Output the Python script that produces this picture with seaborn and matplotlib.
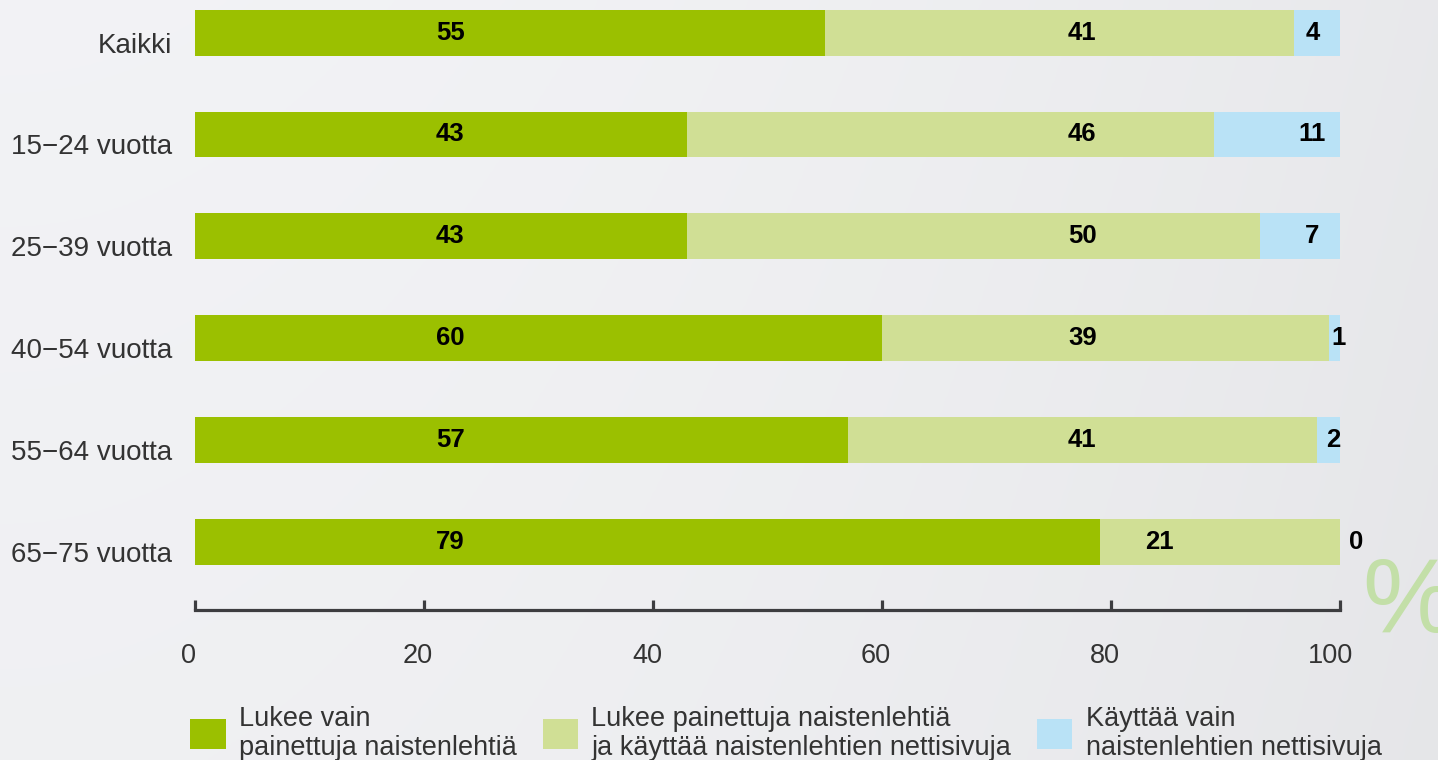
import numpy as np
import pandas as pd
import matplotlib
matplotlib.use("Agg")
import matplotlib.pyplot as plt
import matplotlib.transforms as mtransforms
import seaborn as sns

categories = ["Kaikki", "15\u221224 vuotta", "25\u221239 vuotta", "40\u221254 vuotta",
              "55\u221264 vuotta", "65\u221275 vuotta"]
print_only = [55, 43, 43, 60, 57, 79]
print_and_web = [41, 46, 50, 39, 41, 21]
web_only = [4, 11, 7, 1, 2, 0]
series_names = ["Lukee vain\npainettuja naistenlehtiä",
                "Lukee painettuja naistenlehtiä\nja käyttää naistenlehtien nettisivuja",
                "Käyttää vain\nnaistenlehtien nettisivuja"]
x_ticks = [0, 20, 40, 60, 80, 100]

colors = ["#9bc000", "#d0df95", "#b9e2f6"]

sns.set_theme(style="white")
plt.rcParams["font.family"] = ["Liberation Sans", "DejaVu Sans"]

df = pd.DataFrame({
    "cat": categories,
    "a": print_only,
    "b": print_and_web,
    "c": web_only,
})
df["ab"] = df["a"] + df["b"]
df["abc"] = df["ab"] + df["c"]

fig = plt.figure(figsize=(14.38, 7.6), dpi=100)
fig.patch.set_facecolor("#eeeff2")

# subtle background gradient
bg = fig.add_axes([0, 0, 1, 1], zorder=-10)
grad = np.linspace(0, 1, 256)
gx, gy = np.meshgrid(grad, grad)
val = 0.95 - 0.04 * gx**2 - 0.01 * gy
bg.imshow(np.dstack([val, val + 0.002, val + 0.012]).clip(0, 1), aspect="auto",
          extent=[0, 1, 0, 1])
bg.axis("off")

ax = fig.add_axes([195 / 1438, 150 / 760, (1340 - 195) / 1438, 610 / 760])
ax.patch.set_alpha(0)

bar_kw = dict(y="cat", width=0.45, ax=ax, saturation=1, orient="h", linewidth=0)
sns.barplot(data=df, x="abc", color=colors[2], label=series_names[2], **bar_kw)
sns.barplot(data=df, x="ab", color=colors[1], label=series_names[1], **bar_kw)
sns.barplot(data=df, x="a", color=colors[0], label=series_names[0], **bar_kw)
if ax.get_legend() is not None:
    ax.get_legend().remove()

ax.set_xlim(0, 100)
ax.set_ylim(5.667, -0.32)
ax.set_xlabel("")
ax.set_ylabel("")
ax.set_xticks(x_ticks)
ax.set_xticklabels([str(t) for t in x_ticks], fontsize=19.5, color="#333333")

for s in ["top", "right", "left"]:
    ax.spines[s].set_visible(False)
ax.spines["bottom"].set_color("#3d3d40")
ax.spines["bottom"].set_linewidth(2.3)
ax.spines["bottom"].set_capstyle("projecting")
ax.tick_params(axis="x", direction="in", length=7, width=2.3, color="#3d3d40", pad=24,
               bottom=True)
ax.tick_params(axis="y", length=0, pad=16.5, labelsize=20, labelcolor="#333333")

offset = mtransforms.ScaledTranslation(0, -10 / 100, fig.dpi_scale_trans)
for lab in ax.get_yticklabels():
    lab.set_transform(lab.get_transform() + offset)
for lab in ax.get_xticklabels():
    shift = -10 / 100 if lab.get_text() == "100" else -6 / 100
    lab.set_transform(lab.get_transform()
                      + mtransforms.ScaledTranslation(shift, 0, fig.dpi_scale_trans))

# value labels
lab_kw = dict(fontsize=18.5, fontweight="bold", color="black", va="center", ha="center")
for i, (a, b, c) in enumerate(zip(print_only, print_and_web, web_only)):
    ax.text(22.3, i, str(a), **lab_kw)
    ax.text(max(77.5, a + 5.2), i, str(b), **lab_kw)
    if c >= 4:
        xc = 97.6
    elif c > 0:
        xc = a + b + c / 2 + 0.4
    else:
        xc = 101.4
    ax.text(xc, i, str(c), **lab_kw)

# legend
handles, labels = ax.get_legend_handles_labels()
order = [labels.index(n) for n in series_names]
leg = fig.legend([handles[k] for k in order], [labels[k] for k in order],
                 loc="lower left", bbox_to_anchor=(166 / 1438, -0.033), ncol=3,
                 frameon=False, fontsize=19.5, handlelength=1.3, handleheight=1.3,
                 handletextpad=0.5, columnspacing=0.95, labelspacing=0.2,
                 labelcolor="#333333")
for t in leg.get_texts():
    t.set_linespacing(1.15)

fig.text(1362 / 1438, 1 - 555 / 760, "%", fontsize=76, color="#c3dfa8",
         ha="left", va="top")

fig.savefig("out.png", dpi=100, facecolor=fig.get_facecolor())
